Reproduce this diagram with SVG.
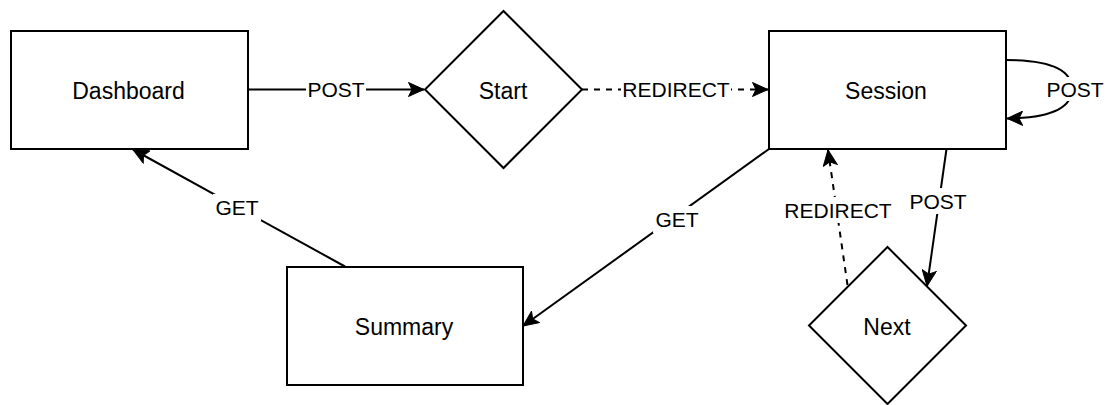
<svg xmlns="http://www.w3.org/2000/svg" width="1108" height="405" viewBox="0 0 1108 405">
  <style>
    .node { fill: #ffffff; stroke: #000000; stroke-width: 2; }
    .node-label { font-family: "Liberation Sans", Arial, sans-serif; font-size: 23px; fill: #000000; text-anchor: middle; }
    .edge { fill: none; stroke: #000000; stroke-width: 2; }
    .dashed { stroke-dasharray: 6 6; }
    .edge-label { font-family: "Liberation Sans", Arial, sans-serif; font-size: 21px; fill: #000000; text-anchor: middle; }
    .label-bg { fill: #ffffff; }
  </style>
  <defs>
    <!-- classic filled arrowhead with a shallow notch -->
    <marker id="arrow" markerUnits="userSpaceOnUse" markerWidth="17" markerHeight="15" refX="16" refY="7.5" orient="auto">
      <path d="M0.5,0.5 L16,7.5 L0.5,14.5 L4,7.5 Z" fill="#000000" stroke="#000000" stroke-width="1" stroke-linejoin="miter"/>
    </marker>
  </defs>

  <rect width="1108" height="405" fill="#ffffff"/>

  <!-- connectors -->
  <g id="connectors">
    <!-- Dashboard -> Start -->
    <path class="edge" d="M248,89.5 L424,89.5" marker-end="url(#arrow)"/>
    <rect class="label-bg" x="306" y="77" width="60" height="24"/>
    <text class="edge-label" x="336" y="97">POST</text>

    <!-- Start -> Session -->
    <path class="edge dashed" d="M582,89.5 L768,89.5" marker-end="url(#arrow)"/>
    <rect class="label-bg" x="621" y="77" width="110" height="24"/>
    <text class="edge-label" x="676" y="97">REDIRECT</text>

    <!-- Session self loop -->
    <path class="edge" d="M1006,60 C1052,60 1072,70 1072,89 C1072,108 1052,118 1007,118.5" marker-end="url(#arrow)"/>
    <rect class="label-bg" x="1045" y="77" width="60" height="24"/>
    <text class="edge-label" x="1075" y="97">POST</text>

    <!-- Session -> Summary -->
    <path class="edge" d="M769,149 L523,326" marker-end="url(#arrow)"/>
    <rect class="label-bg" x="653" y="206" width="48" height="27"/>
    <text class="edge-label" x="677" y="227">GET</text>

    <!-- Summary -> Dashboard -->
    <path class="edge" d="M345,266.5 L133,149.5" marker-end="url(#arrow)"/>
    <rect class="label-bg" x="213" y="194" width="48" height="27"/>
    <text class="edge-label" x="237" y="215">GET</text>

    <!-- Session -> Next -->
    <path class="edge" d="M946.5,149 L927,286" marker-end="url(#arrow)"/>
    <rect class="label-bg" x="908" y="188" width="61" height="26"/>
    <text class="edge-label" x="938" y="208.5">POST</text>

    <!-- Next -> Session -->
    <path class="edge dashed" d="M847.5,285 L828,150" marker-end="url(#arrow)"/>
    <rect class="label-bg" x="781" y="197" width="114" height="26"/>
    <text class="edge-label" x="838" y="217.5">REDIRECT</text>
  </g>

  <!-- nodes -->
  <g id="dashboard">
    <rect class="node" x="11" y="31" width="237" height="118"/>
    <text class="node-label" x="128.5" y="98.5">Dashboard</text>
  </g>

  <g id="start">
    <polygon class="node" points="503.5,11 582,89.5 503.5,168 425,89.5"/>
    <text class="node-label" x="503" y="98.5">Start</text>
  </g>

  <g id="session">
    <rect class="node" x="769" y="31" width="237" height="118"/>
    <text class="node-label" x="886" y="98.5">Session</text>
  </g>

  <g id="summary">
    <rect class="node" x="287" y="267" width="236" height="118"/>
    <text class="node-label" x="404" y="334.5">Summary</text>
  </g>

  <g id="next">
    <polygon class="node" points="887.5,247 966,325.5 887.5,404 809,325.5"/>
    <text class="node-label" x="887" y="334.5">Next</text>
  </g>
</svg>
